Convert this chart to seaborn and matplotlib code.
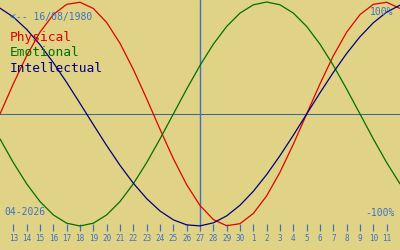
import matplotlib
matplotlib.use("Agg")
import matplotlib.pyplot as plt
import seaborn as sns
import numpy as np
import pandas as pd

# Days shown (index 0 = 13 April 2026, centre = 27 April 2026)
day_labels = ["13", "14", "15", "16", "17", "18", "19", "20", "21", "22", "23", "24",
              "25", "26", "27", "28", "29", "30", "1", "2", "3", "4", "5", "6", "7",
              "8", "9", "10", "11"]

# Curve values from 12 April (one day before first tick) to 12 May
physical = [0.0, 0.2698, 0.5196, 0.7308, 0.8879, 0.9791, 0.9977, 0.9423, 0.8170,
            0.6311, 0.3984, 0.1362, -0.1362, -0.3984, -0.6311, -0.8170, -0.9423,
            -0.9977, -0.9791, -0.8879, -0.7308, -0.5196, -0.2698, 0.0, 0.2698,
            0.5196, 0.7308, 0.8879, 0.9791, 0.9977, 0.9423]
emotional = [-0.2225, -0.4339, -0.6235, -0.7818, -0.9010, -0.9749, -1.0, -0.9749,
             -0.9010, -0.7818, -0.6235, -0.4339, -0.2225, 0.0, 0.2225, 0.4339,
             0.6235, 0.7818, 0.9010, 0.9749, 1.0, 0.9749, 0.9010, 0.7818, 0.6235,
             0.4339, 0.2225, 0.0, -0.2225, -0.4339, -0.6235]
intellectual = [0.9450, 0.8660, 0.7557, 0.6182, 0.4582, 0.2817, 0.0951, -0.0951,
                -0.2817, -0.4582, -0.6182, -0.7557, -0.8660, -0.9450, -0.9898,
                -0.9989, -0.9718, -0.9096, -0.8146, -0.6901, -0.5406, -0.3717,
                -0.1893, 0.0, 0.1893, 0.3717, 0.5406, 0.6901, 0.8146, 0.9096, 0.9718]

series_names = ["Physical", "Emotional", "Intellectual"]
series_colors = ["#e00000", "#007000", "#000080"]

birth_text = "<-- 16/08/1980"
month_text = "04-2026"
top_text = "100%"
bottom_text = "-100%"

BG = "#e1d386"
BLUE = "#3d72c4"

sns.set_theme(style="white")
plt.rcParams["font.family"] = ["DejaVu Sans Mono"]

x = np.arange(-1, len(physical) - 1)
df = pd.DataFrame({
    "day": np.concatenate([x, x, x]),
    "value": physical + emotional + intellectual,
    "series": np.repeat(series_names, len(x)),
})

fig = plt.figure(figsize=(4, 2.5), dpi=100, facecolor=BG)
ax = fig.add_axes([0, 19 / 250, 1, 231 / 250])
ax.set_facecolor(BG)

sns.lineplot(data=df, x="day", y="value", hue="series",
             palette=dict(zip(series_names, series_colors)),
             linewidth=0.9, legend=False, ax=ax, sort=True)

ax.set_xlim(-1, 29)
top = 1 + 2 / 112
ax.set_ylim(top - 231 / 112, top)

ax.axhline(0, color="#3a6a9a", lw=0.75, zorder=0)
center = len(day_labels) // 2
ax.axvline(center, ymin=6 / 231, ymax=1, color=BLUE, lw=1.0, zorder=0)

ax.set_xticks(np.arange(len(day_labels)))
ax.set_xticklabels(day_labels)
ax.set_yticks([])
ax.tick_params(axis="x", direction="in", length=5, width=0.9, color=BLUE,
               labelcolor=BLUE, labelsize=5.5, pad=2.5, bottom=True)
for s in ax.spines.values():
    s.set_visible(False)
ax.set_xlabel("")
ax.set_ylabel("")

ax.text(10 / 400, 1 - 17 / 231, birth_text, transform=ax.transAxes, color=BLUE,
        fontsize=7, va="center", ha="left")
ax.text(393 / 400, 1 - 12 / 231, top_text, transform=ax.transAxes, color=BLUE,
        fontsize=7, va="center", ha="right")
ax.text(4 / 400, 1 - 212 / 231, month_text, transform=ax.transAxes, color=BLUE,
        fontsize=7, va="center", ha="left")
ax.text(395 / 400, 1 - 213 / 231, bottom_text, transform=ax.transAxes, color=BLUE,
        fontsize=7, va="center", ha="right")
for k, (name, col) in enumerate(zip(series_names, series_colors)):
    ax.text(10 / 400, 1 - (37 + 15.5 * k) / 231, name, transform=ax.transAxes,
            color=col, fontsize=9.3, va="center", ha="left")

fig.savefig("out.png", dpi=100, facecolor=BG)
